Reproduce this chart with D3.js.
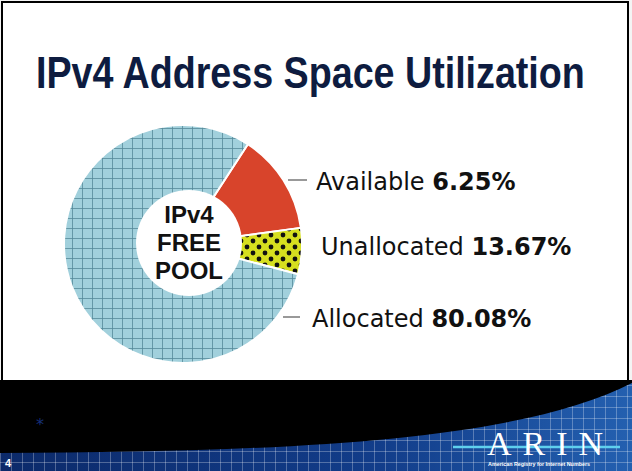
<!DOCTYPE html>
<html>
<head>
<meta charset="utf-8">
<script src="https://cdn.jsdelivr.net/npm/d3@7"></script>
<style>
  html, body { margin: 0; padding: 0; background: #fff; }
  svg { display: block; }
</style>
</head>
<body>
<svg id="chart"></svg>
<script>
// slide data
const titleText = "IPv4 Address Space Utilization";
const centerLines = ["IPv4", "FREE", "POOL"];
const categories = ["Available", "Unallocated", "Allocated"];
const pctLabels = ["6.25%", "13.67%", "80.08%"];
// slice shares as drawn on the slide (red, dotted, grid)
const sliceShares = [13.67, 6.25, 80.08];
const sliceFills = ["#d8442b", "url(#dots)", "url(#grid)"];

const W = 632, H = 471;
const svg = d3.select("#chart").attr("width", W).attr("height", H);
const defs = svg.append("defs");

// grid pattern for the allocated slice
const grid = defs.append("pattern")
    .attr("id", "grid").attr("patternUnits", "userSpaceOnUse")
    .attr("x", 9).attr("y", 4).attr("width", 10).attr("height", 10);
grid.append("rect").attr("width", 10).attr("height", 10).attr("fill", "#a1d0dc");
grid.append("path").attr("d", "M0,0.4H10M0.4,0V10")
    .attr("stroke", "#56899a").attr("stroke-width", 0.9);

// dotted pattern for the unallocated slice
const dots = defs.append("pattern")
    .attr("id", "dots").attr("patternUnits", "userSpaceOnUse")
    .attr("x", 1).attr("y", 0).attr("width", 12).attr("height", 12);
dots.append("rect").attr("width", 12).attr("height", 12).attr("fill", "#d6df1f");
dots.append("circle").attr("cx", 3).attr("cy", 3).attr("r", 2.4).attr("fill", "#111");
dots.append("circle").attr("cx", 9).attr("cy", 9).attr("r", 2.4).attr("fill", "#111");

// footer patterns
const fgrad = defs.append("linearGradient").attr("id", "fgrad")
    .attr("x1", 0).attr("y1", 0).attr("x2", 1).attr("y2", 0);
fgrad.append("stop").attr("offset", "0%").attr("stop-color", "#0c2a6a");
fgrad.append("stop").attr("offset", "60%").attr("stop-color", "#123d8a");
fgrad.append("stop").attr("offset", "100%").attr("stop-color", "#2460b0");
const fgrid = defs.append("pattern")
    .attr("id", "fgrid").attr("patternUnits", "userSpaceOnUse")
    .attr("width", 11).attr("height", 11);
fgrid.append("path").attr("d", "M0,0.5H11M0.5,0V11")
    .attr("stroke", "#ffffff").attr("stroke-opacity", 0.28).attr("stroke-width", 1);

// slide frame
svg.append("rect").attr("width", W).attr("height", H).attr("fill", "#f4f4f4");
svg.append("rect").attr("x", 2).attr("y", 2).attr("width", 626).attr("height", 400)
    .attr("fill", "#fff").attr("stroke", "#000").attr("stroke-width", 2);

// title, squeezed horizontally to the slide's width
const title = svg.append("text")
    .attr("font-family", "'Liberation Sans Narrow', 'Liberation Sans', Arial, sans-serif")
    .attr("font-weight", "bold").attr("font-size", 44)
    .attr("fill", "#0e1c40")
    .text(titleText);
const natural = title.node().getComputedTextLength();
title.attr("transform", `translate(36,88) scale(${Math.min(1, 549 / natural)},1)`);

// donut
const cx = 183, cy = 244, R = 119;
const pie = d3.pie().sort(null).value(d => d)
    .startAngle(33 * Math.PI / 180).endAngle(393 * Math.PI / 180);
const arc = d3.arc().innerRadius(0).outerRadius(R);
const g = svg.append("g").attr("transform", `translate(${cx},${cy})`);
g.selectAll("path.slice")
    .data(pie(sliceShares))
    .join("path")
    .attr("class", "slice")
    .attr("d", arc)
    .attr("fill", (d, i) => sliceFills[i])
    .attr("stroke", "#fff")
    .attr("stroke-width", 2);

svg.append("circle").attr("cx", 189).attr("cy", 243).attr("r", 53).attr("fill", "#fff");

svg.append("g").selectAll("text")
    .data(centerLines)
    .join("text")
    .attr("x", 189)
    .attr("y", (d, i) => 223 + i * 28)
    .attr("text-anchor", "middle")
    .attr("font-family", "'Liberation Sans', Arial, sans-serif")
    .attr("font-weight", "bold").attr("font-size", 24)
    .attr("fill", "#111")
    .text(d => d);

// labels
const labelPos = [[316, 190], [321, 255], [312, 327]];
const leaders = [[288, 307, 180], null, [283, 300, 317]];
const lab = svg.append("g");
categories.forEach((c, i) => {
  if (leaders[i]) {
    lab.append("line")
        .attr("x1", leaders[i][0]).attr("x2", leaders[i][1])
        .attr("y1", leaders[i][2]).attr("y2", leaders[i][2])
        .attr("stroke", "#555").attr("stroke-width", 1.2);
  }
  const t = lab.append("text")
      .attr("x", labelPos[i][0]).attr("y", labelPos[i][1])
      .attr("font-family", "'DejaVu Sans', sans-serif")
      .attr("font-size", 24).attr("fill", "#111");
  t.append("tspan").attr("font-weight", "normal").text(c + " ");
  t.append("tspan").attr("font-weight", "bold").text(pctLabels[i]);
});

// footer
svg.append("rect").attr("x", 0).attr("y", 380).attr("width", W).attr("height", H - 380).attr("fill", "#000");
const wave = "M0,453 C300,452 520,440 632,383 L632,471 L0,471 Z";
svg.append("path").attr("d", wave).attr("fill", "url(#fgrad)");
svg.append("path").attr("d", wave).attr("fill", "url(#fgrid)");

svg.append("text").attr("x", 40).attr("y", 430).attr("text-anchor", "middle")
    .attr("font-family", "'DejaVu Sans', sans-serif").attr("font-size", 16)
    .attr("fill", "#16307a").text("*");

svg.append("text").attr("x", 5).attr("y", 467)
    .attr("font-family", "'Liberation Sans', Arial, sans-serif")
    .attr("font-weight", "bold").attr("font-size", 11).attr("fill", "#fff").text("4");

// ARIN logo
svg.append("line").attr("x1", 453).attr("x2", 620).attr("y1", 447).attr("y2", 447)
    .attr("stroke", "#5fd0ee").attr("stroke-width", 2.5);
svg.append("text").attr("x", 487).attr("y", 455)
    .attr("font-family", "'Liberation Serif', 'Times New Roman', serif")
    .attr("font-size", 34).attr("fill", "#fff")
    .attr("textLength", 116).attr("lengthAdjust", "spacing")
    .text("ARIN");
svg.append("text").attr("x", 488).attr("y", 466)
    .attr("font-family", "'Liberation Sans', Arial, sans-serif")
    .attr("font-weight", "bold").attr("font-size", 6).attr("fill", "#fff")
    .attr("textLength", 102).attr("lengthAdjust", "spacingAndGlyphs")
    .text("American Registry for Internet Numbers");
</script>
</body>
</html>
